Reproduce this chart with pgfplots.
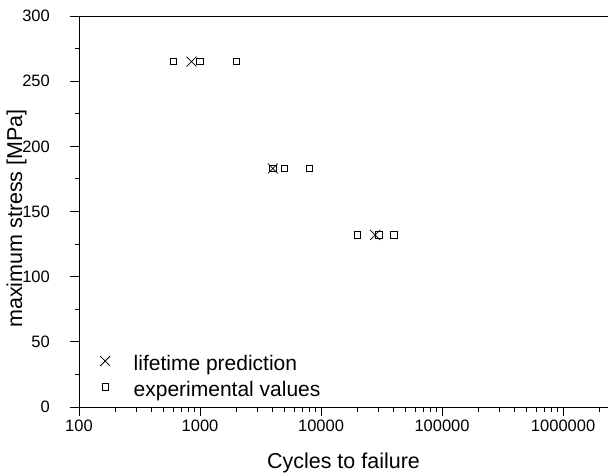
\documentclass[border=0pt]{standalone}
\usepackage{fontspec}
\setmainfont{Liberation Sans}
\usepackage{pgfplots}
\pgfplotsset{compat=1.18}
\begin{document}
\begin{tikzpicture}[x=1pt,y=1pt]
\begin{axis}[
  scale only axis,
  width=529pt, height=391pt,
  xmode=log, log basis x=10,
  xmin=100, xmax=2.35e6,
  ymin=0, ymax=300,
  axis x line=box, axis y line=left,
  axis line style={black, line width=0.9pt, -},
  xtick={100,1000,10000,100000,1000000},
  xticklabels={100,1000,10000,100000,1000000},
  minor xtick={200,300,400,500,600,700,800,900,2000,3000,4000,5000,6000,7000,8000,9000,20000,30000,40000,50000,60000,70000,80000,90000,200000,300000,400000,500000,600000,700000,800000,900000,2000000},
  xtick pos=bottom, ytick pos=left,
  ytick={0,50,100,150,200,250,300},
  minor y tick num=1,
  tick align=outside,
  major tick length=9pt, minor tick length=4.5pt,
  major tick style={black, line width=0.9pt},
  minor tick style={black, line width=0.9pt},
  /pgf/number format/assume math mode=true,
  tick label style={font=\fontsize{16.5}{19}\selectfont},
  xticklabel style={anchor=base, inner sep=0pt, yshift=-15pt},
  yticklabel style={anchor=east, inner sep=0pt, xshift=-20pt},
  every axis x label/.style={at={(axis description cs:0.5,0)}, anchor=base, yshift=-61pt,
     font=\fontsize{21.5}{24}\selectfont},
  every axis y label/.style={at={([xshift=-62.5pt,yshift=-7pt]axis description cs:0,0.5)}, rotate=90, anchor=center,
     font=\fontsize{21.5}{24}\selectfont},
  xlabel={Cycles to failure},
  ylabel={maximum stress [MPa]},
  legend style={draw=none, fill=none, inner sep=0pt, at={(axis description cs:0,0)}, anchor=south west,
    xshift=21pt, yshift=6pt,
    font=\fontsize{21}{24}\selectfont, row sep=6.5pt, column sep=0pt,
    nodes={inner sep=0pt, text height=15pt, text depth=4.5pt}},
  legend cell align=left,
  legend image code/.code={\path[draw=none,fill=none] (-5pt,0pt) -- (28.5pt,0pt);\draw[#1] plot coordinates {(0pt,4pt)};},
  clip=false,
]
\addplot[only marks, mark=x, mark size=7pt, black, mark options={line width=0.75pt}]
  coordinates {(850,265) (4000,183) (28000,132)};
\addlegendentry{lifetime prediction}
\addplot[only marks, mark=square, mark size=3.2pt, black, mark options={line width=0.75pt}]
  coordinates {(600,265) (1000,265) (2000,265) (4000,183) (5000,183) (8000,183) (20000,132) (30000,132) (40000,132)};
\addlegendentry{experimental values}
\end{axis}
\pgfresetboundingbox
\useasboundingbox ([shift={(-79pt,-65pt)}]current axis.south west) rectangle ([shift={(0pt,16pt)}]current axis.north east);
\end{tikzpicture}
\end{document}
